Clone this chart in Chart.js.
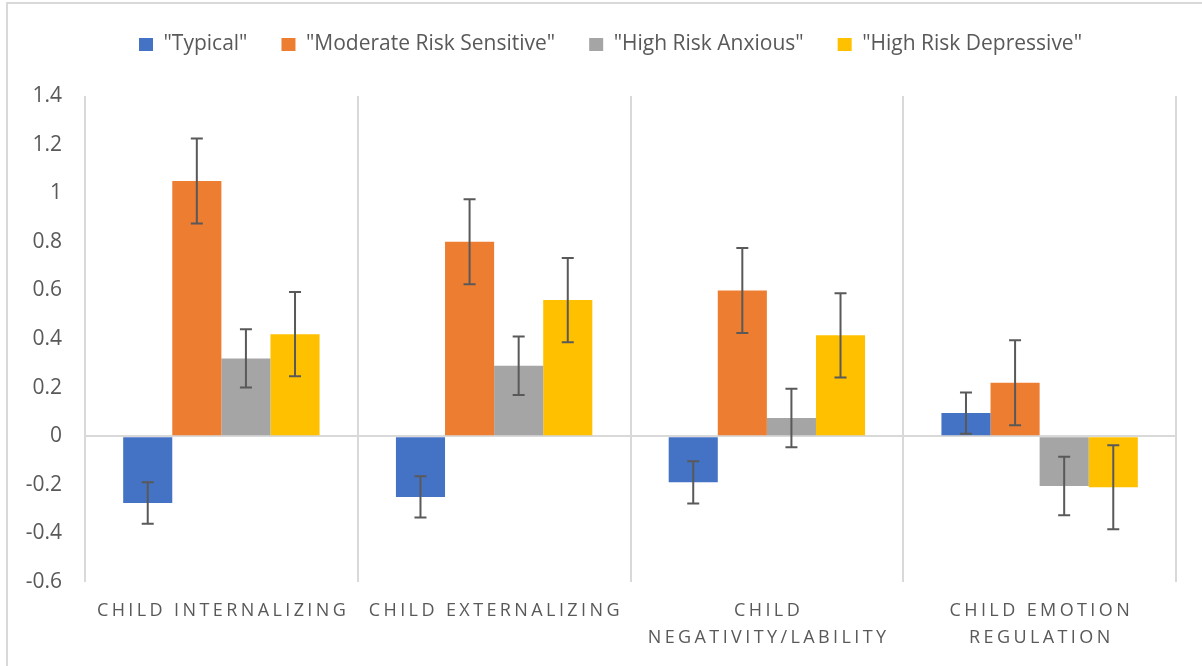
<!DOCTYPE html>
<html>
<head>
<meta charset="utf-8">
<script src="https://cdn.jsdelivr.net/npm/chart.js@4"></script>
<style>
    body { margin: 0; background: #fff; }
</style>
</head>
<body>
<canvas id="chart" width="1202" height="666"></canvas>
<script>
//  Data
const categories = [['CHILD INTERNALIZING'], ['CHILD EXTERNALIZING'], ['CHILD', 'NEGATIVITY/LABILITY'], ['CHILD EMOTION', 'REGULATION']];
const seriesNames = ['"Typical"', '"Moderate Risk Sensitive"', '"High Risk Anxious"', '"High Risk Depressive"'];
const typical = [-0.275, -0.25, -0.19, 0.095];
const moderate = [1.05, 0.80, 0.60, 0.22];
const anxious = [0.32, 0.29, 0.075, -0.205];
const depressive = [0.42, 0.56, 0.415, -0.21];
const typicalErr = [0.085, 0.085, 0.087, 0.085];
const moderateErr = [0.175, 0.175, 0.175, 0.175];
const anxiousErr = [0.12, 0.12, 0.12, 0.12];
const depressiveErr = [0.173, 0.173, 0.173, 0.173];
const yTicks = [1.4, 1.2, 1, 0.8, 0.6, 0.4, 0.2, 0, -0.2, -0.4, -0.6];

const colors = ['#4472C4', '#ED7D31', '#A5A5A5', '#FFC000'];
const TEXT = '#595959';
const GRID = '#d9d9d9';
const FONT = "'Open Sans', sans-serif";

//  Error bars drawn from each bar element and the y scale
const errorBars = {
    id: 'errorBars',
    afterDatasetsDraw(chart) {
        const { ctx, scales: { y } } = chart;
        ctx.save();
        ctx.strokeStyle = '#595959';
        ctx.lineWidth = 2;
        chart.data.datasets.forEach((ds, i) => {
            chart.getDatasetMeta(i).data.forEach((bar, j) => {
                const v = ds.data[j], e = ds.errors[j];
                const top = y.getPixelForValue(v + e);
                const bottom = y.getPixelForValue(v - e);
                ctx.beginPath();
                ctx.moveTo(bar.x, top); ctx.lineTo(bar.x, bottom);
                ctx.moveTo(bar.x - 6, top); ctx.lineTo(bar.x + 6, top);
                ctx.moveTo(bar.x - 6, bottom); ctx.lineTo(bar.x + 6, bottom);
                ctx.stroke();
            });
        });
        ctx.restore();
    }
};

//  Legend sits higher and a bit further right than the layout puts it
const legendShift = {
    id: 'legendShift',
    afterLayout(chart) {
        chart.legend.top -= 31;
        chart.legend.left += 19;
        chart.legend.right += 19;
    }
};

//  Spaced-out category labels and the outer frame
const decorations = {
    id: 'decorations',
    afterDraw(chart) {
        const { ctx, scales: { x } } = chart;
        ctx.save();
        ctx.fillStyle = TEXT;
        ctx.font = `18px ${FONT}`;
        ctx.letterSpacing = '3.4px';
        ctx.textAlign = 'center';
        ctx.textBaseline = 'middle';
        categories.forEach((lines, i) => {
            const cx = x.getPixelForValue(i) + 1.7;
            lines.forEach((line, k) => ctx.fillText(line, cx, 611 + k * 27));
        });
        ctx.restore();

        ctx.save();
        ctx.strokeStyle = GRID;
        ctx.lineWidth = 2;
        ctx.beginPath();
        ctx.moveTo(7, 666); ctx.lineTo(7, 3); ctx.lineTo(1202, 3);
        ctx.stroke();
        ctx.restore();
    }
};

const datasets = [typical, moderate, anxious, depressive].map((data, i) => ({
    label: seriesNames[i],
    data,
    errors: [typicalErr, moderateErr, anxiousErr, depressiveErr][i],
    backgroundColor: colors[i],
    borderWidth: 0,
    barPercentage: 1,
    categoryPercentage: 0.72
}));

new Chart(document.getElementById('chart'), {
    type: 'bar',
    data: { labels: categories, datasets },
    plugins: [errorBars, legendShift, decorations],
    options: {
        responsive: false,
        animation: false,
        layout: { padding: { left: 7, right: 26, top: 31, bottom: 84 } },
        plugins: {
            tooltip: { enabled: false },
            legend: {
                position: 'top',
                labels: {
                    boxWidth: 14,
                    boxHeight: 13,
                    padding: 34,
                    color: TEXT,
                    font: { family: FONT, size: 21 }
                }
            }
        },
        scales: {
            x: {
                grid: { color: GRID, lineWidth: 2, drawTicks: false, offset: true },
                border: { display: false },
                ticks: { display: false }
            },
            y: {
                min: -0.6,
                max: 1.4,
                afterFit: s => { s.width = 78; },
                afterBuildTicks: s => { s.ticks = yTicks.map(value => ({ value })); },
                grid: {
                    drawTicks: false,
                    lineWidth: 2,
                    color: c => (c.tick && Math.abs(c.tick.value) < 1e-9 ? GRID : 'rgba(0,0,0,0)')
                },
                border: { display: false },
                ticks: {
                    color: TEXT,
                    padding: 23,
                    font: { family: FONT, size: 21 },
                    callback: v => String(Math.round(v * 10) / 10)
                }
            }
        }
    }
});
</script>
</body>
</html>
